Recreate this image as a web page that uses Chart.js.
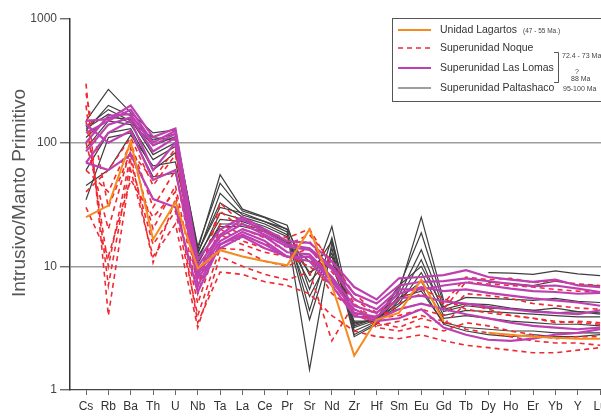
<!DOCTYPE html>
<html>
<head>
<meta charset="utf-8">
<script src="https://cdn.jsdelivr.net/npm/chart.js@4.4.1/dist/chart.umd.min.js"></script>
<style>
  html, body { margin: 0; padding: 0; background: #fff; }
  canvas { display: block; }
</style>
</head>
<body>
<canvas id="spider" width="601" height="416"></canvas>
<script>
// Elements in order of the primitive-mantle normalised spider diagram
const elements = ['Cs','Rb','Ba','Th','U','Nb','Ta','La','Ce','Pr','Sr','Nd','Zr','Hf','Sm','Eu','Gd','Tb','Dy','Ho','Er','Yb','Y','Lu'];
const yTickValues = [1, 10, 100, 1000];

// Unidad Lagartos
const lagartos = [
  [25, 31, 102, 16.5, 33, 9.6, 13.5, 12, 11, 10.2, 20, 7, 1.9, 3.7, 4.2, 7.8, 3.6, null, 2.9, 2.8, 2.7, 2.65, 2.6, 2.6]
];

// Superunidad Noque
const noque = [
  [300, 4, 60, 12, 22, 3.2, 12, 10, 8.6, 7.8, 9, 2.5, 5, 3.2, 3.0, 3.3, 3.0, 3.5, 3.3, 3.0, 2.8, 2.6, 2.7, 2.7],
  [200, 7, 70, 15, 28, 4, 14, 13.6, 11, 10, 12, 6, 4.5, 3.5, 3.2, 3.8, 3.4, 5, 4.5, 4, 3.8, 3.5, 3.6, 3.5],
  [150, 10, 80, 10.7, 35, 5, 18, 15, 13, 12, 14, 8, 4, 3.8, 4, 4.5, 4, 6, 5.8, 5.5, 5, 4.8, 4.6, 4.5],
  [100, 20, 90, 20, 45, 6, 22, 18, 15, 14.4, 16, 9, 5.5, 4, 4.5, 5, 4.5, 7.5, 7.2, 7, 6.8, 6.5, 6.3, 6.2],
  [60, 40, 100, 30, 60, 6.8, 32.6, 22, 19, 17, 20, 10, 5, 3.6, 5, 6, 5, 8.2, 7.8, 8, 7.4, 7.6, 7.2, 7],
  [40, 60, 110, 45, 80, 8, 28, 20, 17, 15, 18, 11, 6, 4.2, 5.5, 6.5, 5.5, 4.5, 4.2, 4, 3.8, 3.6, 3.5, 3.4],
  [30, 12, 50, 25, 40, 3.5, 9, 8.6, 7.5, 7, 6, 4, 3.0, 2.7, 2.6, 2.8, 2.5, 2.3, 2.2, 2.1, 2.0, 2.0, 2.1, 2.2],
  [250, 30, 85, 50, 90, 7, 20, 16, 14, 12, 10, 7, 4.2, 3.3, 3.6, 4, 3.6, 3.1, 2.9, 2.7, 2.5, 2.4, 2.4, 2.3]
];

// Superunidad Las Lomas
const lasLomas = [
  [150, 155, 200, 111, 130, 11.3, 19.8, 25, 20, 16, 15.5, 11, 6.8, 5.4, 8, 8.2, 8.5, 9.3, 8.2, 7.8, 7.5, 7.8, 7.0, 6.8],
  [120, 150, 185, 100, 125, 10, 18, 24, 19, 15, 14, 10, 6.0, 5.0, 7, 7.5, 7.6, 8.0, 7.6, 7.2, 6.9, 7.0, 6.6, 6.2],
  [100, 165, 170, 95, 118, 9, 17.4, 22, 18, 14.4, 13.6, 9.5, 5.4, 4.5, 6.5, 6.5, 7.0, 7.4, 7.0, 6.6, 6.3, 6.2, 6.0, 6.1],
  [85, 140, 160, 85, 110, 8.5, 16, 20, 17.4, 13, 12.5, 8.2, 4.8, 4.2, 6, 6.8, 6.3, 6.5, 6.1, 5.8, 5.5, 5.3, 5.1, 4.8],
  [69, 120, 150, 60, 100, 7, 15, 19, 16, 12, 12, 8, 4.2, 3.9, 5.5, 5.8, 5.2, 5.0, 4.7, 4.5, 4.3, 4.2, 4.1, 4.4],
  [69, 60, 80, 35, 30, 6.2, 15, 18, 15, 11.9, 11.9, 7.5, 4.5, 3.7, 4.5, 5.0, 4.5, 4.1, 3.8, 3.5, 3.3, 3.2, 3.1, 3.2],
  [140, 100, 125, 50, 60, 8, 14, 17.4, 14, 12, 11, 7, 4.0, 3.6, 3.8, 4.5, 3.2, 2.8, 2.55, 2.5, 2.6, 2.8, 2.9, 3.1]
];

// Superunidad Paltashaco
const paltashaco = [
  [150, 270, 175, 120, 127, 13.6, 55, 29, 25, 21.5, 6.5, 21, 3.2, 3.7, 6.3, 25, 5.3, null, 8.9, 8.8, 8.6, 9.2, 8.7, 8.4],
  [125, 200, 165, 105, 118, 14.5, 47, 28, 24.7, 19.8, 4.4, 17, 3.0, 3.6, 6.8, 18.7, 5.0, null, 7.4, 7.3, 7.0, 7.6, 7.1, 7.0],
  [134, 185, 150, 95, 112, 12.5, 39, 26, 23, 19, 1.46, 15.5, 2.8, 3.5, 5.8, 13.6, 4.7, 5.6, 5.5, 5.4, 5.3, 5.5, 5.2, 5.1],
  [110, 160, 155, 80, 100, 13, 32.6, 25, 22, 18, 3.7, 14, 2.7, 3.4, 5.3, 11.3, 4.3, 4.8, 4.6, 4.5, 4.4, 4.6, 4.3, 4.2],
  [90, 150, 140, 73, 93, 11.3, 27, 24, 21, 17.4, 5.7, 12.8, 3.3, 3.8, 5.0, 8.9, 4.0, 4.4, 4.3, 4.2, 4.1, 4.0, 3.9, 3.9],
  [60, 120, 130, 60, 83, 12, 24, 23, 20, 16, 7.5, 12, 3.5, 3.7, 5.5, 7.5, 3.8, 4.0, 3.8, 3.6, 3.5, 3.4, 3.4, 3.3],
  [34.5, 110, 120, 53, 57, 10.5, 22, 22, 19.5, 15.5, 9, 11, 3.9, 3.9, 5.6, 6.3, 3.5, 3.2, 3.1, 3.0, 3.0, 2.9, 2.9, 2.9],
  [45, 60, 115, 65, 70, 11, 21, 21, 19, 15, 11, 10, 3.6, 3.6, 4.8, 6.8, 3.4, 3.0, 2.8, 2.7, 2.8, 2.7, 2.7, 2.8],
  [130, 170, 145, 110, 105, 13, 30, 27, 23, 20, 8.5, 16, 3.4, 3.8, 7, 10, 4.5, 5, 4.9, 4.6, 4.4, 4.2, 4.3, 4.1]
];

const groupNames = ['Unidad Lagartos', 'Superunidad Noque', 'Superunidad Las Lomas', 'Superunidad Paltashaco'];
const groupAges = ['(47 - 55 Ma.)', '72.4 - 73 Ma', '?', '88 Ma', '95-100 Ma'];
const yTitle = 'Intrusivo/Manto Primitivo';

const groupStyles = [
  { color: '#F58A1F', width: 2.0, dash: [] },
  { color: '#EE2A32', width: 1.6, dash: [5, 4] },
  { color: '#BE40B0', width: 2.2, dash: [] },
  { color: '#3E3E3E', width: 1.2, dash: [] }
];

const FONT = "'Liberation Sans', Arial, Helvetica, sans-serif";

function toPoints(values) {
  return values.map((v, i) => ({ x: i, y: v }));
}

const datasets = [];
[lagartos, lasLomas, noque, paltashaco].forEach((group, k) => {
  const styleIndex = [0, 2, 1, 3][k];
  const st = groupStyles[styleIndex];
  group.forEach((sample, j) => {
    datasets.push({
      label: groupNames[styleIndex] + ' ' + (j + 1),
      data: toPoints(sample),
      borderColor: st.color,
      borderWidth: st.width,
      borderDash: st.dash,
      pointRadius: 0,
      tension: 0,
      spanGaps: false,
      fill: false
    });
  });
});

// Legend box and rotated axis title
const annotations = {
  id: 'annotations',
  afterDraw(chart) {
    const ctx = chart.ctx;
    ctx.save();

    // Axis title
    ctx.translate(20, 193);
    ctx.rotate(-Math.PI / 2);
    ctx.fillStyle = '#555';
    ctx.font = '19px ' + FONT;
    ctx.textAlign = 'center';
    ctx.textBaseline = 'middle';
    ctx.fillText(yTitle, 0, 0);
    ctx.setTransform(1, 0, 0, 1, 0, 0);

    // Legend frame
    ctx.fillStyle = '#fff';
    ctx.fillRect(392, 18, 215, 83);
    ctx.strokeStyle = '#555';
    ctx.lineWidth = 1;
    ctx.strokeRect(392.5, 18.5, 215, 83);

    const rows = [30, 48, 68, 88];
    groupNames.forEach((name, i) => {
      const st = groupStyles[i];
      ctx.beginPath();
      ctx.setLineDash(st.dash);
      ctx.strokeStyle = st.color;
      ctx.lineWidth = st.width;
      ctx.moveTo(398, rows[i]);
      ctx.lineTo(431, rows[i]);
      ctx.stroke();
      ctx.setLineDash([]);
      ctx.fillStyle = '#333';
      ctx.font = '10.5px ' + FONT;
      ctx.textAlign = 'left';
      ctx.textBaseline = 'middle';
      ctx.fillText(name, 440, rows[i]);
    });

    ctx.fillStyle = '#444';
    ctx.font = '6.5px ' + FONT;
    ctx.fillText(groupAges[0], 523, 31);
    ctx.font = '7px ' + FONT;
    ctx.fillText(groupAges[1], 562, 56);
    ctx.fillText(groupAges[2], 575, 72);
    ctx.fillText(groupAges[3], 571, 79);
    ctx.fillText(groupAges[4], 563, 89);

    // bracket joining Noque and Las Lomas
    ctx.beginPath();
    ctx.strokeStyle = '#555';
    ctx.lineWidth = 1;
    ctx.moveTo(554, 52.5);
    ctx.lineTo(558.5, 52.5);
    ctx.lineTo(558.5, 82.5);
    ctx.lineTo(554, 82.5);
    ctx.stroke();

    ctx.restore();
  }
};

new Chart(document.getElementById('spider'), {
  type: 'line',
  data: { datasets },
  options: {
    responsive: false,
    animation: false,
    layout: { padding: { top: 19, left: 0, right: 0, bottom: 0 } },
    plugins: { legend: { display: false }, tooltip: { enabled: false } },
    scales: {
      x: {
        type: 'linear',
        min: -0.716,
        max: 23.04,
        afterBuildTicks: (scale) => { scale.ticks = elements.map((_, i) => ({ value: i })); },
        afterFit: (scale) => { scale.height = 26; scale.paddingLeft = 0; scale.paddingRight = 0; },
        ticks: {
          autoSkip: false,
          maxRotation: 0,
          minRotation: 0,
          padding: 4,
          color: '#333',
          font: { family: FONT, size: 12 },
          callback: (v) => elements[v] ?? ''
        },
        grid: { drawOnChartArea: false, tickLength: 5, tickColor: '#666', tickWidth: 1 },
        border: { display: true, color: '#444', width: 1.3 }
      },
      y: {
        type: 'logarithmic',
        min: 1,
        max: 1000,
        afterBuildTicks: (scale) => { scale.ticks = yTickValues.map(v => ({ value: v })); },
        afterFit: (scale) => { scale.width = 70; scale.paddingTop = 0; scale.paddingBottom = 0; },
        ticks: {
          padding: 3,
          color: '#444',
          font: { family: FONT, size: 12 },
          callback: (v) => String(v)
        },
        grid: {
          color: (c) => (c.tick && (c.tick.value === 10 || c.tick.value === 100)) ? '#9c9c9c' : 'rgba(0,0,0,0)',
          lineWidth: 1.5,
          tickLength: 10,
          tickColor: '#555',
          tickWidth: 1.2
        },
        border: { display: true, color: '#333', width: 1.5 }
      }
    }
  },
  plugins: [annotations]
});
</script>
</body>
</html>
